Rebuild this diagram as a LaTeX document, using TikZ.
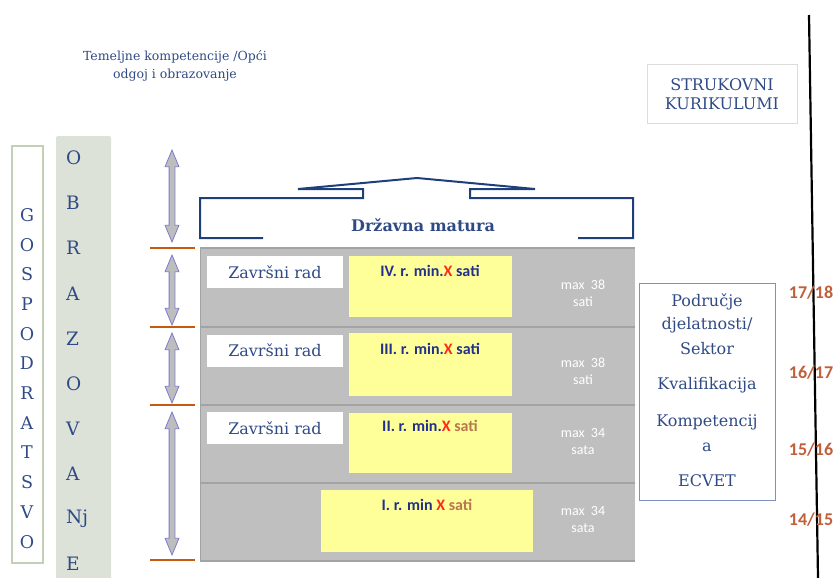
\documentclass[tikz,border=0pt]{standalone}
\usepackage{fontspec}
\setmainfont{DejaVu Serif}
\newfontfamily\calib{Carlito}
\usetikzlibrary{shapes.arrows}
\definecolor{txtblue}{HTML}{2F4A85}
\definecolor{lblblue}{HTML}{22308C}
\definecolor{redx}{HTML}{FF2A1A}
\definecolor{satibrown}{HTML}{B8764F}
\definecolor{tickorange}{HTML}{C55A11}
\definecolor{yearorange}{HTML}{C0603A}
\definecolor{rowgray}{HTML}{BFBFBF}
\definecolor{sepgray}{HTML}{A3A3A3}
\definecolor{yellowbox}{HTML}{FFFF99}
\definecolor{panelgray}{HTML}{DDE2D8}
\definecolor{greenline}{HTML}{C3CFB6}
\definecolor{arrowfill}{HTML}{BDBDBD}
\definecolor{arrowline}{HTML}{7B7BD0}
\definecolor{maturablue}{HTML}{1F3F7A}
\definecolor{lightbox}{HTML}{DCDCDC}
\definecolor{sectline}{HTML}{7F8FBF}

\begin{document}
\begin{tikzpicture}[x=1pt,y=-1pt,
  serif/.style={text=txtblue,font=\fontsize{16}{19}\selectfont},
  letter/.style={text=txtblue,font=\fontsize{17.5}{19}\selectfont,inner sep=0pt},
  durarrow/.style={shape=double arrow,rotate=90,draw=arrowline,fill=arrowfill,line width=0.8pt,
    inner sep=2.5pt,double arrow head extend=4pt,double arrow tip angle=45},
  tick/.style={tickorange,line width=2pt},
  zavrsni/.style={fill=white,minimum width=136,minimum height=32,inner sep=0pt,text=txtblue,font=\fontsize{16}{19}\selectfont},
  ybox/.style={fill=yellowbox,inner sep=0pt},
  lbl/.style={text=lblblue,font=\calib\bfseries\fontsize{16}{18}\selectfont},
  maxlbl/.style={text=white,align=center,font=\calib\fontsize{14}{17}\selectfont},
  year/.style={text=yearorange,font=\calib\bfseries\fontsize{18}{20}\selectfont}]
\useasboundingbox (0,0) rectangle (838,578);

% naslov
\node[serif,font=\fontsize{12.5}{18}\selectfont,align=center] (temelj) at (175,66) {Temeljne kompetencije /Opći\\odgoj i obrazovanje};
\node[draw=lightbox,line width=1pt,minimum width=150,minimum height=58,align=center,serif] (struk) at (722,94) {STRUKOVNI\\KURIKULUMI};
\draw[line width=2.2pt] (809,15) -- (818,578);

% gospodarstvo / obrazovanje
\node[draw=greenline,line width=2pt,minimum width=31,minimum height=417,inner sep=0pt] (gosp) at (27,354.5) {};
\foreach \l [count=\i] in {G,O,S,P,O,D,R,A,T,S,V,O}
  \node[letter] (g\i) at (27,{215+(\i-1)*29.7}) {\l};
\fill[panelgray,rounded corners=2pt] (56,136) rectangle (111,590);
\foreach \l [count=\i] in {O,B,R,A,Z,O,V,A,Nj,E}
  \node[letter,font=\fontsize{18.5}{20}\selectfont,anchor=west] (o\i) at (66,{158+(\i-1)*45.1}) {\l};

% godine
\foreach \y in {248,327,405,560}
  \draw[tick] (150,\y) -- (195,\y);
\node[durarrow,minimum height=92] (a1) at (172,196) {};
\node[durarrow,minimum height=70] (a2) at (172,290) {};
\node[durarrow,minimum height=70] (a3) at (172,368) {};
\node[durarrow,minimum height=143] (a4) at (172,483.5) {};

% drzavna matura
\draw[maturablue,line width=2pt] (263,238) -- (200,238) -- (200,198) -- (363,198) -- (363,189) -- (298,189)
  -- (417,178) -- (535,189) -- (470,189) -- (470,198) -- (633,198) -- (633,238) -- (578,238);
\node[text=txtblue,font=\bfseries\fontsize{16}{19}\selectfont] (matura) at (423,225) {Državna matura};

% razredi
\fill[rowgray] (200,248) rectangle (635,561);
\draw[sepgray,line width=0.8pt] (200,248) -- (200,561);
\foreach \y in {248,327,405,483,561}
  \draw[sepgray,line width=1.6pt] (200,\y) -- (635,\y);

\node[zavrsni] (z4) at (275,272) {Završni rad};
\node[zavrsni] (z3) at (275,350.5) {Završni rad};
\node[zavrsni] (z2) at (275,428) {Završni rad};

\node[ybox,minimum width=163,minimum height=61] (y4) at (430.5,286.5) {};
\node[ybox,minimum width=163,minimum height=63] (y3) at (430.5,364.5) {};
\node[ybox,minimum width=163,minimum height=60] (y2) at (430.5,443) {};
\node[ybox,minimum width=212,minimum height=62] (y1) at (427,521) {};

\node[lbl] (l4) at (430,271) {IV. r. min.\textcolor{redx}{X} sati};
\node[lbl] (l3) at (430,349) {III. r. min.\textcolor{redx}{X} sati};
\node[lbl] (l2) at (430,426) {II. r. min.\textcolor{redx}{X} \textcolor{satibrown}{sati}};
\node[lbl] (l1) at (427,505) {I. r. min \textcolor{redx}{X} \textcolor{satibrown}{sati}};

\node[maxlbl] (m4) at (583,293.5) {max~ 38\\sati};
\node[maxlbl] (m3) at (583,371) {max~ 38\\sati};
\node[maxlbl] (m2) at (583,442) {max~ 34\\sata};
\node[maxlbl] (m1) at (583,520) {max~ 34\\sata};

% podrucje
\node[draw=sectline,line width=0.8pt,minimum width=136,minimum height=217,inner sep=0pt] (sect) at (707,391.5) {};
\node[serif] (s1) at (707,302) {Područje};
\node[serif] (s2) at (707,325) {djelatnosti/};
\node[serif] (s3) at (707,349) {Sektor};
\node[serif] (s4) at (707,385) {Kvalifikacija};
\node[serif] (s5) at (707,422) {Kompetencij};
\node[serif] (s6) at (707,447) {a};
\node[serif] (s7) at (707,481) {ECVET};

\node[year] (g18) at (811,293) {17/18};
\node[year] (g17) at (811,373) {16/17};
\node[year] (g16) at (811,450) {15/16};
\node[year] (g15) at (811,520) {14/15};
\end{tikzpicture}
\end{document}
